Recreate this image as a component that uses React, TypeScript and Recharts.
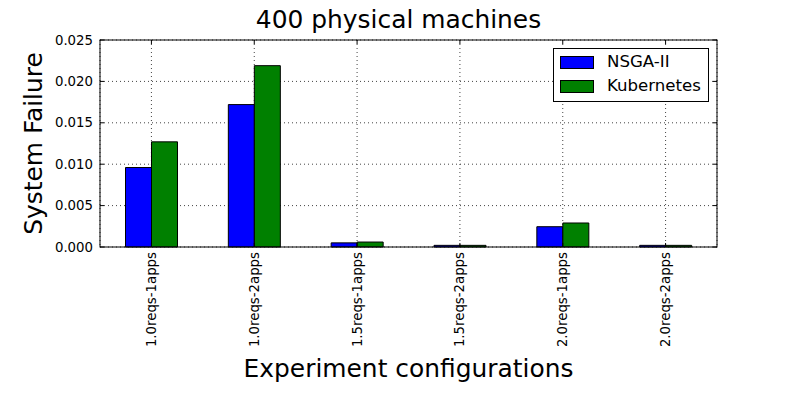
import React from 'react';
import { BarChart, Bar, XAxis, YAxis, CartesianGrid } from 'recharts';

const configs = [
  '1.0reqs-1apps',
  '1.0reqs-2apps',
  '1.5reqs-1apps',
  '1.5reqs-2apps',
  '2.0reqs-1apps',
  '2.0reqs-2apps',
];
const nsga = [0.0096, 0.0172, 0.0005, 0.0002, 0.00245, 0.0002];
const kubernetes = [0.0127, 0.0219, 0.0006, 0.0002, 0.0029, 0.0002];
const yTicks = [0, 0.005, 0.01, 0.015, 0.02, 0.025];
const seriesNames = ['NSGA-II', 'Kubernetes'];
const seriesColors = ['#0000ff', '#008000'];

const data = configs.map((name, i) => ({ name, nsga: nsga[i], kubernetes: kubernetes[i] }));

const W = 797;
const H = 399;
const PL = 100;
const PR = 717;
const PT = 40;
const PB = 247;
const FONT = '"DejaVu Sans", sans-serif';

const YTick = (props: any) => {
  const { x, y, payload } = props;
  return (
    <g>
      <line x1={PL} x2={PL + 4} y1={y} y2={y} stroke="#000" />
      <line x1={PR} x2={PR - 4} y1={y} y2={y} stroke="#000" />
      <text x={x} y={y} dy="0.35em" textAnchor="end" fontSize={13.3} fontFamily={FONT} fill="#000">
        {Number(payload.value).toFixed(3)}
      </text>
    </g>
  );
};

const XTick = (props: any) => {
  const { x, y, payload } = props;
  return (
    <g>
      <line x1={x} x2={x} y1={PB} y2={PB - 4} stroke="#000" />
      <line x1={x} x2={x} y1={PT} y2={PT + 4} stroke="#000" />
      <text
        transform={`translate(${x},${y}) rotate(-90)`}
        textAnchor="end"
        dominantBaseline="central"
        fontSize={13.3}
        fontFamily={FONT}
        fill="#000"
      >
        {payload.value}
      </text>
    </g>
  );
};

const LegendBox = () => (
  <div
    style={{
      position: 'absolute',
      left: 553,
      top: 48,
      width: 156,
      height: 54,
      boxSizing: 'border-box',
      border: '1px solid #000',
      background: '#fff',
      fontFamily: FONT,
      fontSize: 16.6,
    }}
  >
    {seriesNames.map((label, i) => (
      <div key={label} style={{ position: 'absolute', left: 6, top: 6 + i * 24, display: 'flex', alignItems: 'center', height: 14 }}>
        <div style={{ width: 34, height: 13, background: seriesColors[i], border: '1px solid #000', boxSizing: 'border-box' }} />
        <span style={{ marginLeft: 13, lineHeight: '14px' }}>{label}</span>
      </div>
    ))}
  </div>
);

export default function App() {
  return (
    <div style={{ position: 'absolute', left: 0, top: 0, width: W, height: H, background: '#fff' }}>
      <BarChart
        width={W}
        height={H}
        data={data}
        margin={{ top: PT, right: W - PR, bottom: 17, left: 40 }}
        barCategoryGap="24.8%"
        barGap={0}
      >
        <CartesianGrid stroke="#444" strokeDasharray="1 3" />
        <XAxis
          dataKey="name"
          height={135}
          interval={0}
          tickLine={false}
          axisLine={false}
          tickSize={0}
          tickMargin={5}
          tick={<XTick />}
        />
        <YAxis
          width={60}
          domain={[0, 0.025]}
          ticks={yTicks}
          tickLine={false}
          axisLine={false}
          tickSize={0}
          tickMargin={7}
          tick={<YTick />}
        />
        <Bar dataKey="nsga" name={seriesNames[0]} fill={seriesColors[0]} stroke="#000" strokeWidth={1} isAnimationActive={false} />
        <Bar dataKey="kubernetes" name={seriesNames[1]} fill={seriesColors[1]} stroke="#000" strokeWidth={1} isAnimationActive={false} />
      </BarChart>
      <svg width={W} height={H} style={{ position: 'absolute', left: 0, top: 0, pointerEvents: 'none' }}>
        <rect x={PL} y={PT} width={PR - PL} height={PB - PT} fill="none" stroke="#000" strokeWidth={1} />
        <text x={398.5} y={28} textAnchor="middle" fontSize={24.9} fontFamily={FONT} fill="#000">
          400 physical machines
        </text>
        <text
          transform={`translate(42,${(PT + PB) / 2}) rotate(-90)`}
          textAnchor="middle"
          fontSize={24.9}
          fontFamily={FONT}
          fill="#000"
        >
          System Failure
        </text>
        <text x={408.5} y={377} textAnchor="middle" fontSize={24.9} fontFamily={FONT} fill="#000">
          Experiment configurations
        </text>
      </svg>
      <LegendBox />
    </div>
  );
}
